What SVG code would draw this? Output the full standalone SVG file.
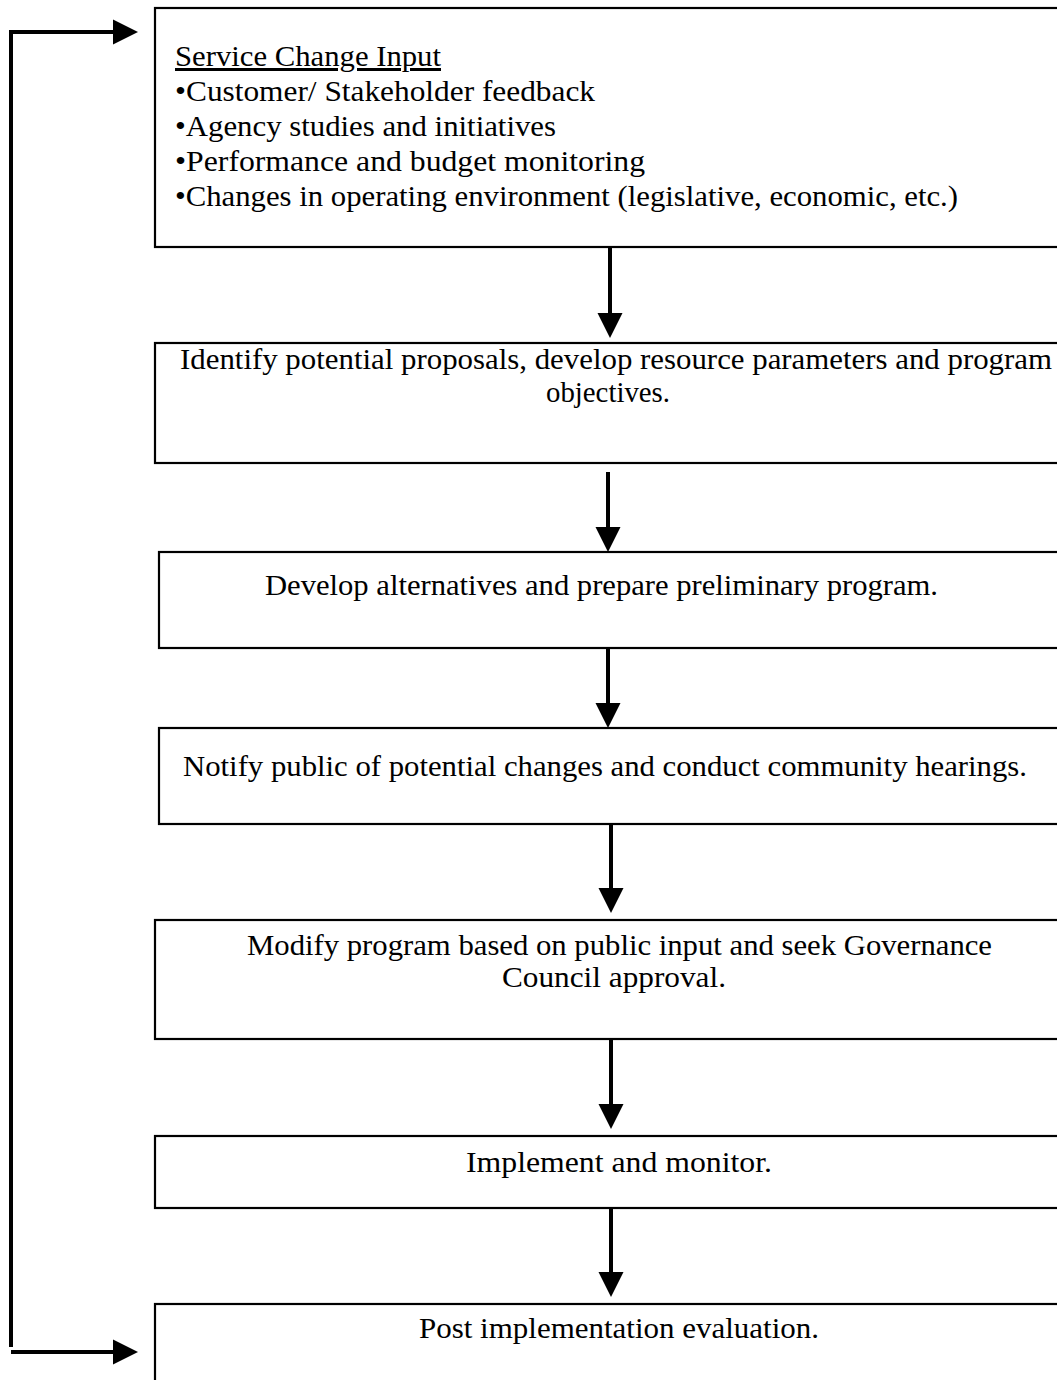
<svg xmlns="http://www.w3.org/2000/svg" width="1057" height="1380" viewBox="0 0 1057 1380">
<style>
.box{fill:#fff;stroke:#000;stroke-width:2.2}
.t{font-family:"Liberation Serif","Times New Roman",serif;font-size:30px;fill:#000}
.c{fill:none;stroke:#000;stroke-width:4}
</style>
<defs>
<marker id="ah" markerUnits="userSpaceOnUse" markerWidth="26" markerHeight="26" refX="0" refY="12.5" orient="auto" overflow="visible">
<path d="M0,0 L25,12.5 L0,25 z" fill="#000"/>
</marker>
</defs>
<rect x="0" y="0" width="1057" height="1380" fill="#fff"/>
<g id="n1">
<rect class="box" x="155" y="8" width="920" height="239"/>
<text class="t" x="175" y="66" textLength="266" lengthAdjust="spacingAndGlyphs" text-decoration="underline">Service Change Input</text>
<text class="t" x="175" y="101" textLength="420" lengthAdjust="spacingAndGlyphs">•Customer/ Stakeholder feedback</text>
<text class="t" x="175" y="136" textLength="381" lengthAdjust="spacingAndGlyphs">•Agency studies and initiatives</text>
<text class="t" x="175" y="171" textLength="470" lengthAdjust="spacingAndGlyphs">•Performance and budget monitoring</text>
<text class="t" x="175" y="206" textLength="783" lengthAdjust="spacingAndGlyphs">•Changes in operating environment (legislative, economic, etc.)</text>
</g>
<g id="n2">
<rect class="box" x="155" y="343" width="920" height="120"/>
<text class="t" x="180" y="369" textLength="872" lengthAdjust="spacingAndGlyphs">Identify potential proposals, develop resource parameters and program</text>
<text class="t" x="546" y="402" textLength="124" lengthAdjust="spacingAndGlyphs">objectives.</text>
</g>
<g id="n3">
<rect class="box" x="159" y="552" width="916" height="96"/>
<text class="t" x="265" y="595" textLength="673" lengthAdjust="spacingAndGlyphs">Develop alternatives and prepare preliminary program.</text>
</g>
<g id="n4">
<rect class="box" x="159" y="728" width="916" height="96"/>
<text class="t" x="183" y="776" textLength="844" lengthAdjust="spacingAndGlyphs">Notify public of potential changes and conduct community hearings.</text>
</g>
<g id="n5">
<rect class="box" x="155" y="920" width="920" height="119"/>
<text class="t" x="247" y="955" textLength="745" lengthAdjust="spacingAndGlyphs">Modify program based on public input and seek Governance</text>
<text class="t" x="502" y="987" textLength="224" lengthAdjust="spacingAndGlyphs">Council approval.</text>
</g>
<g id="n6">
<rect class="box" x="155" y="1136" width="920" height="72"/>
<text class="t" x="466" y="1172" textLength="306" lengthAdjust="spacingAndGlyphs">Implement and monitor.</text>
</g>
<g id="n7">
<rect class="box" x="155" y="1304" width="920" height="100"/>
<text class="t" x="419" y="1338" textLength="400" lengthAdjust="spacingAndGlyphs">Post implementation evaluation.</text>
</g>
<g id="connectors">
<path class="c" d="M610,247 V313" marker-end="url(#ah)"/>
<path class="c" d="M608,472 V527" marker-end="url(#ah)"/>
<path class="c" d="M608,648 V703" marker-end="url(#ah)"/>
<path class="c" d="M611,824 V888" marker-end="url(#ah)"/>
<path class="c" d="M611,1039 V1104" marker-end="url(#ah)"/>
<path class="c" d="M611,1208 V1272" marker-end="url(#ah)"/>
<path class="c" d="M11,1347 V32 H113" stroke-linejoin="miter" marker-end="url(#ah)"/>
<path class="c" d="M11,1352 H113" marker-end="url(#ah)"/>
</g>
</svg>
